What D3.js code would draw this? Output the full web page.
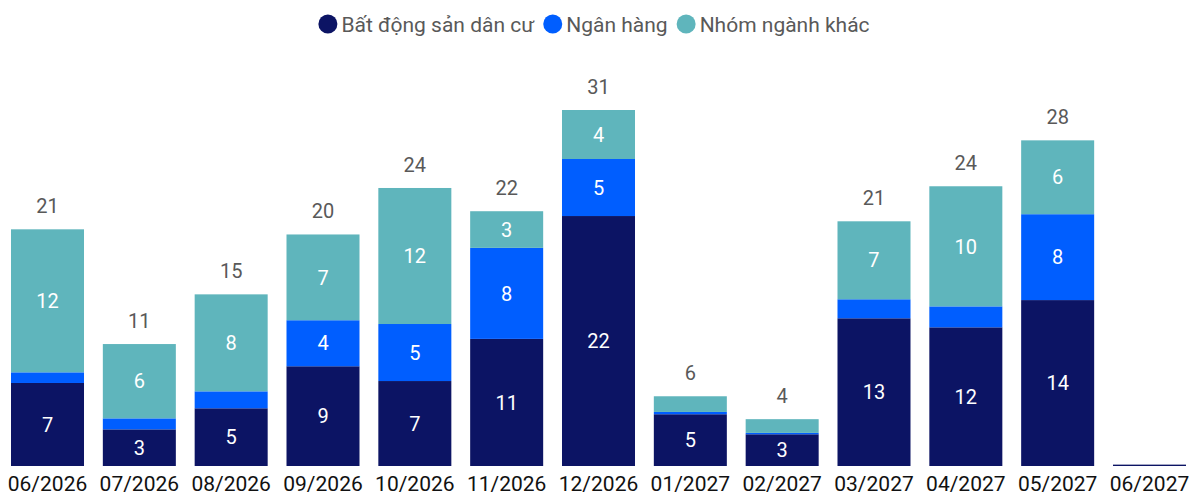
<!DOCTYPE html>
<html>
<head>
<meta charset="utf-8">
<script src="https://cdn.jsdelivr.net/npm/d3@7"></script>
<style>
    body { margin: 0; background: #fff; }
    text { font-family: Roboto, "Noto Sans", sans-serif; }
</style>
</head>
<body>
<svg id="chart" width="1189" height="496"></svg>
<script>
// Months on the x axis
let months = ["06/2026", "07/2026", "08/2026", "09/2026", "10/2026", "11/2026", "12/2026",
    "01/2027", "02/2027", "03/2027", "04/2027", "05/2027", "06/2027"];

// Series values
let residential = [7.25, 3.2, 5.04, 8.71, 7.42, 11.1, 21.83, 4.52, 2.77, 12.9, 12.11, 14.49, 0.12];
let banks       = [0.93, 0.96, 1.48, 4.02, 4.98, 7.95, 4.98, 0.2, 0.12, 1.66, 1.83, 7.5, 0];
let others      = [12.49, 6.49, 8.47, 7.49, 11.88, 3.2, 4.28, 1.37, 1.2, 6.81, 10.49, 6.45, 0];

let series_names = ["Bất động sản dân cư", "Ngân hàng", "Nhóm ngành khác"];
let series_colors = ["#0c1464", "#005eff", "#5fb5bc"];

class StackedBars {

    constructor(svg_id) {
        this.svg = d3.select("#" + svg_id);
        this.prepare();
        this.render();
    }

    prepare() {
        this.rows = months.map((m, i) => ({
            month: m,
            s0: residential[i],
            s1: banks[i],
            s2: others[i]
        }));
        this.stack = d3.stack().keys(["s0", "s1", "s2"])(this.rows);
    }

    render() {
        let svg = this.svg;

        let x = d3.scaleBand().domain(months)
            .range([11, 1186])
            .paddingInner(0.205)
            .paddingOuter(0);

        let y = d3.scaleLinear().domain([0, 31.09]).range([466, 110]);

        // Bars
        let layers = svg.selectAll(".layer").data(this.stack).join("g")
            .attr("class", "layer")
            .style("fill", (d, i) => series_colors[i]);

        layers.selectAll("rect").data(d => d).join("rect")
            .attr("x", d => x(d.data.month))
            .attr("width", x.bandwidth())
            .attr("y", d => y(d[1]))
            .attr("height", d => y(d[0]) - y(d[1]));

        // Segment labels, only where the segment is tall enough
        layers.selectAll(".seglabel").data(d => d.filter(s => s[1] - s[0] >= 2)).join("text")
            .attr("class", "seglabel")
            .attr("x", d => x(d.data.month) + x.bandwidth() / 2)
            .attr("y", d => (y(d[0]) + y(d[1])) / 2)
            .attr("dy", "0.36em")
            .attr("text-anchor", "middle")
            .style("font-size", "20px")
            .style("fill", "#ffffff")
            .text(d => Math.round(d[1] - d[0]));

        // Totals above bars
        svg.selectAll(".total").data(this.rows.filter(r => r.s0 + r.s1 + r.s2 >= 1)).join("text")
            .attr("class", "total")
            .attr("x", d => x(d.month) + x.bandwidth() / 2)
            .attr("y", d => y(d.s0 + d.s1 + d.s2) - 16)
            .attr("text-anchor", "middle")
            .style("font-size", "20px")
            .style("fill", "#595959")
            .text(d => Math.round(d.s0 + d.s1 + d.s2));

        // X axis labels
        let xAxis = svg.append("g")
            .attr("transform", "translate(0,466)")
            .call(d3.axisBottom(x).tickSize(0).tickPadding(10));
        xAxis.select(".domain").remove();
        xAxis.selectAll("text")
            .attr("dy", "0.71em")
            .style("font-family", "Roboto, sans-serif")
            .style("font-size", "21px")
            .style("fill", "#111");

        // Legend, centred over the chart
        let legend = svg.append("g").attr("class", "legend");
        let items = legend.selectAll(".item").data(series_names).join("g")
            .attr("class", "item");
        items.append("circle")
            .attr("r", 9.5)
            .attr("cx", 9.5)
            .attr("cy", 0)
            .style("fill", (d, i) => series_colors[i]);
        items.append("text")
            .attr("x", 23)
            .attr("y", 0)
            .attr("dy", "0.36em")
            .style("font-size", "21px")
            .style("fill", "#595959")
            .text(d => d);

        let pos = 0;
        items.each(function () {
            let w = 23 + d3.select(this).select("text").node().getComputedTextLength();
            d3.select(this).attr("transform", "translate(" + pos + ",0)");
            pos += w + 9;
        });
        let total_w = pos - 9;
        legend.attr("transform", "translate(" + (594 - total_w / 2) + ",24)");
    }
}

let vis = new StackedBars("chart");
</script>
</body>
</html>
